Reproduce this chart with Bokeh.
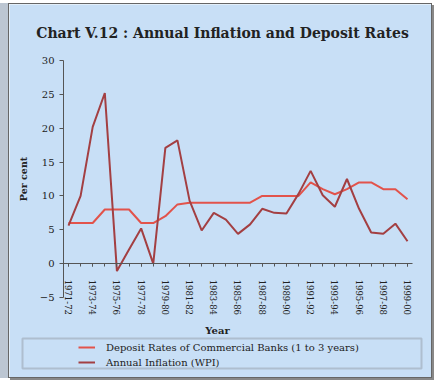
from bokeh.plotting import figure
from bokeh.models import FixedTicker, LinearAxis, Label, Legend, LegendItem, BoxAnnotation, Range1d
from bokeh.embed import file_html
from bokeh.resources import INLINE

# ---- data ----
year_index = list(range(29))  # 0 = 1971-72 ... 28 = 1999-00
tick_labels = ["1971-72", "1973-74", "1975-76", "1977-78", "1979-80", "1981-82",
               "1983-84", "1985-86", "1987-88", "1989-90", "1991-92", "1993-94",
               "1995-96", "1997-98", "1999-00"]
deposit_rates = [6, 6, 6, 8, 8, 8, 6, 6, 7, 8.75, 9, 9, 9, 9, 9, 9, 10, 10, 10, 10,
                 12, 11, 10.25, 11, 12, 12, 11, 11, 9.5]
annual_inflation = [5.6, 10.0, 20.2, 25.2, -1.1, 2.1, 5.2, 0.0, 17.1, 18.2, 9.3, 4.9,
                    7.5, 6.5, 4.4, 5.8, 8.1, 7.5, 7.4, 10.3, 13.7, 10.1, 8.4, 12.5,
                    8.1, 4.6, 4.4, 5.9, 3.3]
y_ticks = [-5, 0, 5, 10, 15, 20, 25, 30]
y_min, y_max = -5, 30
x_lo, x_hi = -0.41, 28.41

BG = "#c8dff6"
DEP = "#e2534b"
INF = "#a33f42"
AXC = "#555555"
TXT = "#222222"
FONT = "DejaVu Serif"

W, H = 424, 375
p = figure(width=W, height=H, output_backend="svg", toolbar_location=None,
           x_range=Range1d(-4.873, 30.148), y_range=Range1d(-17.11, 38.27),
           x_axis_location=None, y_axis_location=None,
           background_fill_color=BG, border_fill_color=BG,
           min_border=0,
           styles={"margin-left": "8px", "margin-top": "3px",
                   "border": "1px solid #666",
                   "box-shadow": "2px 2px 0 #888, -8px 0 0 #bcc6d2"})
p.outline_line_color = None
p.grid.visible = False

# y axis
ya = LinearAxis(fixed_location=x_lo, bounds=(y_min, y_max))
ya.ticker = FixedTicker(ticks=y_ticks)
ya.axis_line_color = AXC
ya.major_tick_line_color = AXC
ya.major_tick_out = 4
ya.major_tick_in = 0
ya.minor_tick_line_color = None
ya.major_label_text_font = FONT
ya.major_label_text_font_size = "10px"
ya.major_label_text_color = TXT
ya.major_label_standoff = 5
ya.axis_label = "Per cent"
ya.axis_label_text_font = FONT
ya.axis_label_text_font_size = "9.5px"
ya.axis_label_text_font_style = "bold"
ya.axis_label_text_color = TXT
ya.axis_label_standoff = 8
p.add_layout(ya, "left")

# x axis at y = 0
xa = LinearAxis(fixed_location=0, bounds=(x_lo, x_hi))
major = year_index[::2]
xa.ticker = FixedTicker(ticks=major, minor_ticks=year_index)
xa.major_label_overrides = {m: lab for m, lab in zip(major, tick_labels)}
xa.major_label_orientation = "vertical"
xa.axis_line_color = AXC
xa.major_tick_line_color = AXC
xa.minor_tick_line_color = AXC
xa.major_tick_out = 3
xa.major_tick_in = 0
xa.minor_tick_out = 3
xa.minor_tick_in = 0
xa.major_label_text_font = FONT
xa.major_label_text_font_size = "8.5px"
xa.major_label_text_color = TXT
xa.major_label_standoff = 13
p.add_layout(xa, "below")

r_dep = p.line(year_index, deposit_rates, line_color=DEP, line_width=2)
r_inf = p.line(year_index, annual_inflation, line_color=INF, line_width=2)

# title and x label
p.add_layout(Label(x=213, y=347, x_units="screen", y_units="screen",
                   text="Chart V.12 : Annual Inflation and Deposit Rates",
                   text_font=FONT, text_font_size="14px", text_font_style="bold",
                   text_align="center", text_baseline="middle", text_color=TXT))
p.add_layout(Label(x=208, y=49, x_units="screen", y_units="screen", text="Year",
                   text_font=FONT, text_font_size="10px", text_font_style="bold",
                   text_align="center", text_baseline="middle", text_color=TXT))

# legend box
p.add_layout(BoxAnnotation(left=13, right=412, top=41, bottom=11,
                           left_units="screen", right_units="screen",
                           top_units="screen", bottom_units="screen",
                           fill_alpha=0, line_color="#747474", line_width=2))
legend = Legend(items=[LegendItem(label="Deposit Rates of Commercial Banks (1 to 3 years)", renderers=[r_dep]),
                       LegendItem(label="Annual Inflation (WPI)", renderers=[r_inf])],
                location=(69, 11), border_line_color=None, background_fill_alpha=0,
                padding=2, margin=0, glyph_width=17, glyph_height=12, label_height=12,
                label_standoff=11, spacing=3, label_text_font=FONT,
                label_text_font_size="10px", label_text_color=TXT)
p.add_layout(legend)

open("out.html", "w").write(file_html(p, INLINE))
